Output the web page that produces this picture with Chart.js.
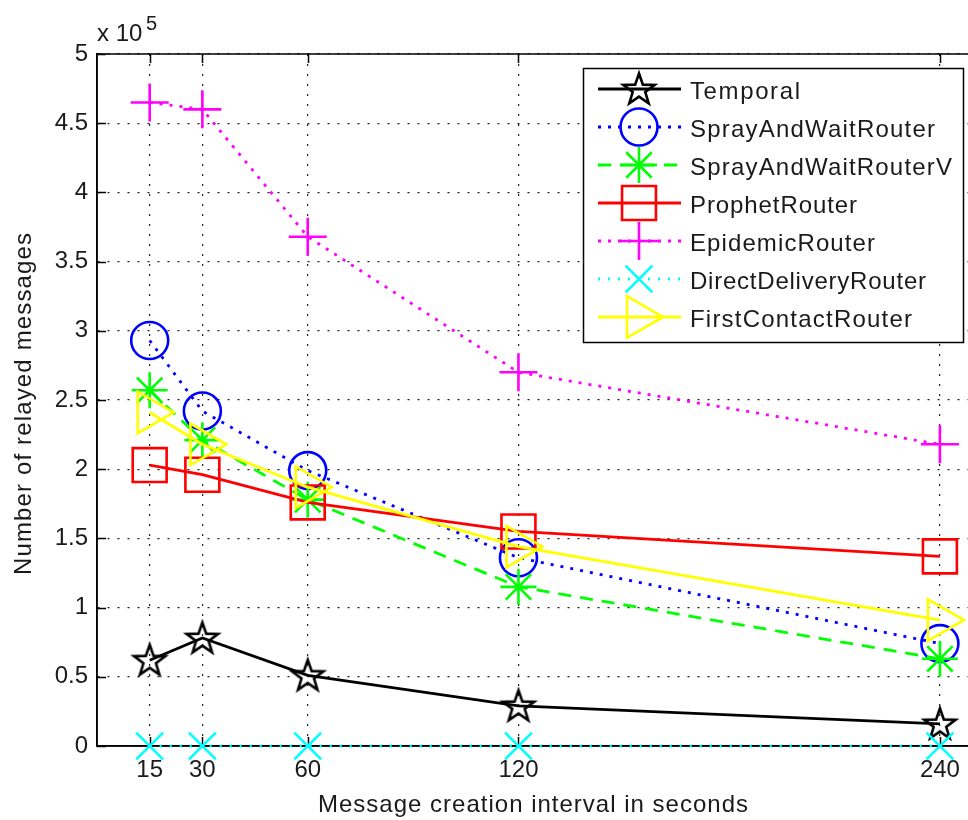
<!DOCTYPE html>
<html><head><meta charset="utf-8">
<script src="https://cdn.jsdelivr.net/npm/chart.js@4.4.0/dist/chart.umd.min.js"></script>
<style>html,body{margin:0;padding:0;background:#fff;overflow:hidden;width:968px;height:820px}canvas{display:block}</style>
</head><body><canvas id="c" width="968" height="820" style="width:968px;height:820px"></canvas>
<script>
// ---- data ----
const intervals = [15, 30, 60, 120, 240];
const xTickValues = [15, 30, 60, 120, 240];
const yTickLabels = ['0', '0.5', '1', '1.5', '2', '2.5', '3', '3.5', '4', '4.5', '5'];
const seriesNames = ['Temporal', 'SprayAndWaitRouter', 'SprayAndWaitRouterV', 'ProphetRouter', 'EpidemicRouter', 'DirectDeliveryRouter', 'FirstContactRouter'];
const temporal       = [62000, 78000, 51000, 29000, 16000];
const sprayAndWait   = [293000, 242000, 199000, 136000, 74000];
const sprayAndWaitV  = [257000, 221000, 178000, 115000, 63000];
const prophet        = [203000, 196000, 176000, 155000, 137000];
const epidemic       = [465000, 460000, 368000, 270000, 218000];
const directDelivery = [0, 0, 0, 0, 0];
const firstContact   = [241000, 218000, 187000, 144000, 91000];

const FONT = '"Liberation Sans", Arial, sans-serif';
const TXT = '#1a1a1a';

// pentagram marker
function makeStar() {
  const c = document.createElement('canvas');
  c.width = 40; c.height = 40;
  const g = c.getContext('2d');
  const R = 16.5, r = 6.6, cx = 20, cy = 21;
  g.beginPath();
  for (let i = 0; i < 10; i++) {
    const a = -Math.PI / 2 + i * Math.PI / 5;
    const rr = i % 2 === 0 ? R : r;
    const px = cx + rr * Math.cos(a), py = cy + rr * Math.sin(a);
    if (i === 0) g.moveTo(px, py); else g.lineTo(px, py);
  }
  g.closePath();
  g.lineWidth = 2.6; g.strokeStyle = '#000'; g.lineJoin = 'miter';
  g.stroke();
  return c;
}
const starImg = makeStar();

const pts = arr => intervals.map((x, i) => ({x: x, y: arr[i]}));
const NONE = 'rgba(0,0,0,0)';
function ds(i, arr, color, dash, style, radius, rot) {
  return {
    label: seriesNames[i], data: pts(arr),
    borderColor: color, borderWidth: 2.8, borderDash: dash,
    pointStyle: style, pointRadius: radius, pointRotation: rot || 0,
    pointBorderColor: color, pointBackgroundColor: NONE, pointBorderWidth: 2.6,
    pointHoverRadius: radius, tension: 0, clip: false, order: 10 - i, fill: false
  };
}
const datasets = [
  ds(0, temporal, '#000000', [], starImg, 17),
  ds(1, sprayAndWait, '#0000ff', [3, 7], 'circle', 18.5),
  ds(2, sprayAndWaitV, '#00ff00', [13, 9], 'star', 18),
  ds(3, prophet, '#ff0000', [], 'rect', 24),
  ds(4, epidemic, '#ff00ff', [3, 7], 'cross', 19),
  ds(5, directDelivery, '#00ffff', [2, 8], 'crossRot', 19),
  ds(6, firstContact, '#ffff00', [], 'triangle', 24, 90)
];

function spacedText(ctx, s, x, y, targetW, align) {
  ctx.letterSpacing = '0px';
  const w = ctx.measureText(s).width;
  const sp = targetW ? (targetW - w) / (s.length - 1) : 0;
  ctx.letterSpacing = sp + 'px';
  let x0 = x;
  if (align === 'center') x0 = x - (w + sp * (s.length - 1)) / 2;
  ctx.textAlign = 'left';
  ctx.fillText(s, x0, y);
  ctx.letterSpacing = '0px';
}

const framePlugin = {
  id: 'frame',
  beforeDatasetsDraw(chart) {
    const {ctx, chartArea: a, scales: {x, y}} = chart;
    ctx.save();
    ctx.strokeStyle = '#000'; ctx.lineWidth = 1.5; ctx.setLineDash([]);
    ctx.strokeRect(a.left, a.top, a.right - a.left + 10, a.bottom - a.top);
    ctx.beginPath();
    xTickValues.forEach(v => {
      const px = Math.round(x.getPixelForValue(v)) + 0.5;
      ctx.moveTo(px, a.bottom); ctx.lineTo(px, a.bottom - 9);
      ctx.moveTo(px, a.top); ctx.lineTo(px, a.top + 9);
    });
    y.ticks.forEach(t => {
      const py = Math.round(y.getPixelForValue(t.value)) + 0.5;
      ctx.moveTo(a.left, py); ctx.lineTo(a.left + 9, py);
    });
    ctx.stroke();
    ctx.restore();
  },
  afterDraw(chart) {
    const {ctx} = chart;
    ctx.save();
    ctx.fillStyle = TXT;
    ctx.textBaseline = 'alphabetic';
    // exponent label
    ctx.font = '24px ' + FONT;
    ctx.textAlign = 'left';
    ctx.fillText('x 10', 97, 41);
    ctx.font = '20px ' + FONT;
    ctx.fillText('5', 146, 30);
    // axis titles
    ctx.font = '24px ' + FONT;
    spacedText(ctx, 'Message creation interval in seconds', 533, 812, 430, 'center');
    ctx.save();
    ctx.translate(31, 404);
    ctx.rotate(-Math.PI / 2);
    spacedText(ctx, 'Number of relayed messages', 0, 0, 342, 'center');
    ctx.restore();

    // legend
    const L = 583, T = 68, W = 380, H = 274;
    ctx.fillStyle = '#fff';
    ctx.fillRect(L, T, W, H);
    ctx.strokeStyle = '#000'; ctx.lineWidth = 1.5;
    ctx.strokeRect(L + 0.5, T + 0.5, W, H);
    chart.data.datasets.forEach((d, i) => {
      const cy = 89 + i * 38;
      ctx.save();
      ctx.strokeStyle = d.borderColor; ctx.lineWidth = d.borderWidth;
      ctx.setLineDash(d.borderDash || []);
      ctx.beginPath(); ctx.moveTo(598, cy); ctx.lineTo(681, cy); ctx.stroke();
      ctx.setLineDash([]);
      ctx.strokeStyle = d.pointBorderColor; ctx.fillStyle = NONE; ctx.lineWidth = d.pointBorderWidth;
      Chart.helpers.drawPoint(ctx, {pointStyle: d.pointStyle, radius: d.pointRadius, rotation: d.pointRotation, borderWidth: d.pointBorderWidth}, 639, cy);
      ctx.restore();
      ctx.fillStyle = TXT;
      ctx.font = '24px ' + FONT;
      ctx.textBaseline = 'middle';
      const tw = {Temporal: 110, SprayAndWaitRouter: 245, SprayAndWaitRouterV: 262, ProphetRouter: 167, EpidemicRouter: 185, DirectDeliveryRouter: 236, FirstContactRouter: 222}[d.label];
      spacedText(ctx, d.label, 690, cy + 3, tw, 'left');
    });
    ctx.restore();
  }
};

new Chart(document.getElementById('c'), {
  type: 'line',
  data: {datasets: datasets},
  options: {
    responsive: false, animation: false, devicePixelRatio: 1,
    layout: {autoPadding: false, padding: {left: 0, top: 54, right: 0, bottom: 0}},
    plugins: {legend: {display: false}, tooltip: {enabled: false}},
    scales: {
      x: {
        type: 'linear', min: 0, max: 248,
        afterBuildTicks: s => { s.ticks = xTickValues.map(v => ({value: v})); },
        afterFit: s => { s.height = 74; s.paddingLeft = 0; s.paddingRight = 0; },
        grid: {color: '#222', lineWidth: 1.2, drawTicks: false},
        border: {display: true, color: '#000', width: 1.5, dash: [2, 8]},
        ticks: {color: TXT, font: {family: FONT, size: 24}, padding: 10, maxRotation: 0, autoSkip: false, callback: v => String(v)}
      },
      y: {
        type: 'linear', min: 0, max: 500000,
        afterBuildTicks: s => { s.ticks = yTickLabels.map(t => ({value: parseFloat(t) * 100000})); },
        afterFit: s => { s.width = 97; s.paddingTop = 0; s.paddingBottom = 0; },
        grid: {color: '#222', lineWidth: 1.2, drawTicks: false},
        border: {display: true, color: '#000', width: 1.5, dash: [2, 8]},
        ticks: {color: TXT, font: {family: FONT, size: 24}, padding: 9, autoSkip: false,
          callback: (v, i) => yTickLabels[i]}
      }
    }
  },
  plugins: [framePlugin]
});
</script>
</body></html>
